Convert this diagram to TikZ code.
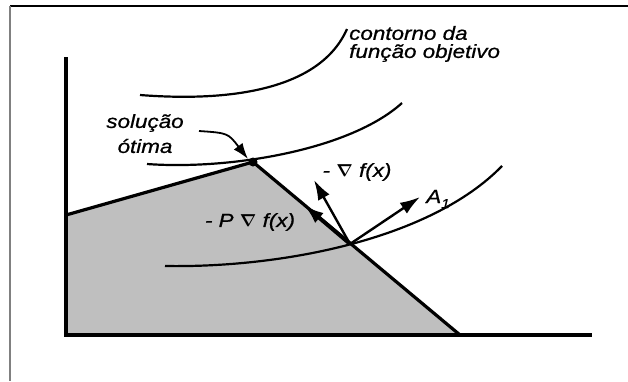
\documentclass[tikz,border=0pt]{standalone}
\usepackage{fontspec}
\setmainfont{Liberation Sans}[FakeStretch=1.18, FakeBold=0.8]
\usetikzlibrary{arrows.meta}

\tikzset{
  axis/.style={line width=3.5pt},
  edge/.style={line width=3.2pt},
  contour/.style={line width=2.2pt},
  vec/.style={line width=2.4pt, -{Latex[length=20pt,width=13pt]}},
  lbl/.style={font=\fontsize{19}{21}\selectfont\itshape, inner sep=0pt},
}

\begin{document}
\begin{tikzpicture}[x=1pt, y=-1pt]
  \useasboundingbox (0,0) rectangle (628,381);
  % frame
  \draw[line width=1.5pt] (10,6) -- (628,6);
  \draw[line width=1.2pt, gray] (10,6) -- (10,381);

  \coordinate (ytop) at (66,57);
  \coordinate (o) at (66,335);
  \coordinate (xend) at (592,335);
  \coordinate (c1) at (66,215);
  \coordinate (opt) at (253,162);
  \coordinate (c2) at (460,335);
  \coordinate (xk) at (350,244);

  % feasible region
  \fill[gray!50] (o) -- (c1) -- (opt) -- (c2) -- cycle;

  % contours
  \draw[contour] (140,95) .. controls (230,102) and (320,90) .. (347,29);
  \draw[contour] (147,164) .. controls (230,170) and (350,150) .. (402,103);
  \draw[contour] (165,266) .. controls (280,268) and (430,240) .. (502,166);

  \draw[edge] (c1) -- (opt) -- (c2);
  \draw[axis] (ytop) -- (o) -- (xend);
  \fill (opt) circle (4.5pt);

  \node[lbl] (sol) at (145,123) {solução};
  \node[lbl] (otima) at (145,146) {ótima};
  \node[lbl, anchor=west] (cont1) at (349,33) {contorno da};
  \node[lbl, anchor=west] (cont2) at (349,53) {função objetivo};
  \node[lbl] (grad) at (357,172) {- {\boldmath$\nabla$} f(x)};
  \node[lbl] (pgrad) at (250,222) {- P {\boldmath$\nabla$} f(x)};
  \node[lbl] (a1) at (438,199) {A\raisebox{-5pt}{\fontsize{13}{13}\selectfont 1}};

  % direction vectors
  \coordinate (gtip) at (314,180);
  \coordinate (ptip) at (304,205);
  \coordinate (atip) at (420,197);
  \draw[vec] (xk) -- (gtip);
  \draw[vec, line width=3.8pt] (xk) -- (ptip);
  \draw[vec] (xk) -- (atip);
  \draw[line width=1.8pt, -{Latex[length=16pt,width=11pt]}] (199,131) .. controls (228,133) .. (248,159);
\end{tikzpicture}
\end{document}
